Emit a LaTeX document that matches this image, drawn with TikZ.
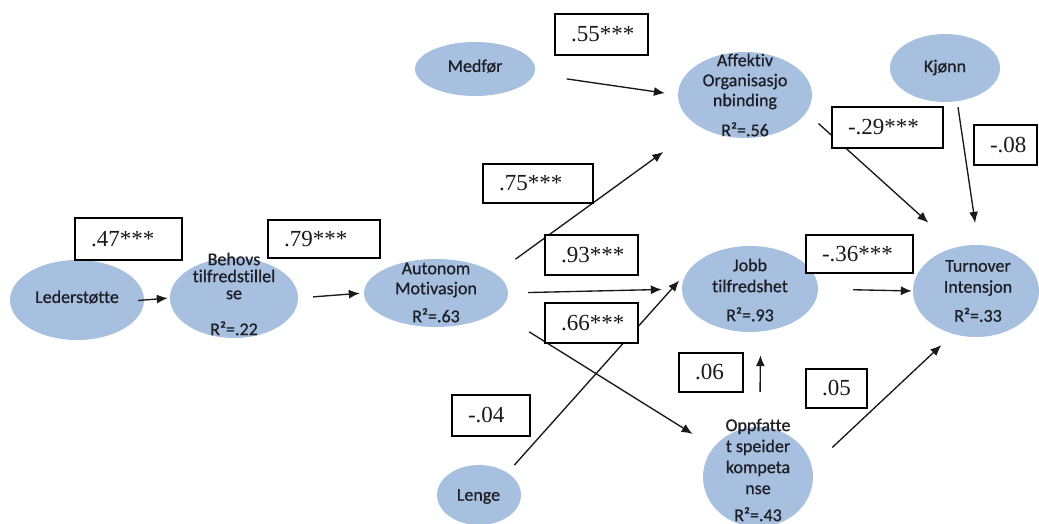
\documentclass[tikz,border=0pt]{standalone}
\usepackage{fontspec}
\usetikzlibrary{arrows.meta,shapes.geometric}
\newfontfamily\calibfont[FakeBold=0.7,Ligatures=NoCommon]{Carlito}
\newfontfamily\seriffont{Liberation Serif}
\definecolor{nodeblue}{RGB}{168,192,223}
\definecolor{inkgray}{RGB}{25,25,25}
\definecolor{labelink}{RGB}{30,30,38}

\tikzset{
  var/.style={ellipse, fill=nodeblue, draw=none, inner sep=0pt},
  vtext/.style={text=labelink, align=center, inner sep=0pt},
  coef/.style={draw=black, line width=1.3pt, fill=white, text=inkgray,
    font=\seriffont\fontsize{23}{25}\selectfont,
    inner xsep=16pt, inner ysep=0pt, align=left},
  link/.style={draw=inkgray, line width=1.35pt, -{Latex[length=11pt,width=9pt]}}
}
\newcommand{\txtsize}[1]{\calibfont\fontsize{18}{#1}\selectfont}

\begin{document}
\begin{tikzpicture}[x=1pt,y=-1pt]
\useasboundingbox (0,0) rectangle (1039,524);

% latent variables
\node[var, minimum width=134pt, minimum height=80pt] (L)  at (77,300)  {};
\node[var, minimum width=128pt, minimum height=80pt] (B)  at (234,298) {};
\node[var, minimum width=144pt, minimum height=68pt] (A)  at (436,293) {};
\node[var, minimum width=120pt, minimum height=54pt] (M)  at (475,69)  {};
\node[var, minimum width=134pt, minimum height=86pt] (AF) at (745,95)  {};
\node[var, minimum width=110pt, minimum height=68pt] (K)  at (945,68)  {};
\node[var, minimum width=136pt, minimum height=86pt] (J)  at (750,289) {};
\node[var, minimum width=126pt, minimum height=92pt] (T)  at (976,291) {};
\node[var, minimum width=84pt,  minimum height=60pt] (LG) at (479,495) {};
\node[var, minimum width=110pt, minimum height=100pt] (O) at (758,477) {};

% variable labels
\node[vtext, font=\txtsize{20}] (Lt)  at (77,297)    {Lederstøtte};
\node[vtext, font=\txtsize{17}] (Bt)  at (234,294)   {Behovs\\tilfredstillel\\se\\[19pt]R²=.22};
\node[vtext, font=\txtsize{20}] (At)  at (436,292.5) {Autonom\\Motivasjon\\[8pt]R²=.63};
\node[vtext, font=\txtsize{20}] (Mt)  at (475,66)    {Medfør};
\node[vtext, font=\txtsize{20}] (AFt) at (745,95)    {Affektiv\\Organisasjo\\nbinding\\[10pt]R²=.56};
\node[vtext, font=\txtsize{20}] (Kt)  at (945,67.5)  {Kjønn};
\node[vtext, font=\txtsize{21}] (Jt)  at (750,290)   {Jobb\\tilfredshet\\[8pt]R²=.93};
\node[vtext, font=\txtsize{21}] (Tt)  at (978,291)   {Turnover\\Intensjon\\[8pt]R²=.33};
\node[vtext, font=\txtsize{20}] (LGt) at (478.5,496.5) {Lenge};
\node[vtext, font=\txtsize{21}] (Ot)  at (758,470)   {Oppfatte\\t speider\\kompeta\\nse\\[6pt]R²=.43};

% paths
\draw[link, shorten <=-6pt,   shorten >=2pt]    (L.east)   -- (B.west);
\draw[link, shorten <=15pt,   shorten >=4pt]    (B.east)   -- (A.west);
\draw[link, shorten <=33pt,   shorten >=13pt]   (M.-5)     -- (AF.180);
\draw[link, shorten <=24.6pt, shorten >=43.7pt] (A.18.4)   -- (AF.214.7);
\draw[link, shorten <=20pt,   shorten >=20pt]   (A.east)   -- (J.west);
\draw[link, shorten <=38.3pt, shorten >=24.8pt] (A.-17.2)  -- (O.146.4);
\draw[link, shorten <=10.3pt, shorten >=18.7pt] (LG.38.1)  -- (J.159.9);
\draw[link, shorten <=35pt,   shorten >=23.5pt] (O.88)     -- (J.-76.8);
\draw[link, shorten <=27.8pt, shorten >=16.1pt] (O.11.7)   -- (T.242.7);
\draw[link, shorten <=16.3pt, shorten >=36.7pt] (AF.-16.6) -- (T.115.5);
\draw[link, shorten <=5.9pt,  shorten >=22.2pt] (K.-70)    -- (T.87.3);
\draw[link, shorten <=35pt,   shorten >=1pt]    (J.east)   -- (T.west);

% path coefficients
\node[coef, text width=61pt, minimum height=41pt] (b55) at (601.5,34.5)  {.55***};
\node[coef, text width=78pt, minimum height=39pt] (b75) at (538,183.5)   {.75***};
\node[coef, text width=75pt, minimum height=42pt] (b47) at (128.5,239)   {.47***};
\node[coef, text width=80pt, minimum height=38pt] (b79) at (324,239)     {.79***};
\node[coef, text width=61pt, minimum height=40pt] (b93) at (591.5,255)   {.93***};
\node[coef, text width=61pt, minimum height=40pt] (b66) at (591.5,323)   {.66***};
\node[coef, text width=75pt, minimum height=38pt] (b36) at (859.5,254)   {\mbox{-.36***}};
\node[coef, text width=79pt, minimum height=41pt] (b29) at (887.5,127.5) {\mbox{-.29***}};
\node[coef, text width=31pt, minimum height=40pt] (b08) at (1005.5,145)  {\mbox{-.08}};
\node[coef, text width=32pt, minimum height=39pt] (b06) at (711,372.5)   {.06};
\node[coef, text width=29pt, minimum height=39pt] (b05) at (836.5,388.5) {.05};
\node[coef, text width=46pt, minimum height=41pt] (b04) at (491,415.5)   {\mbox{-.04}};
\end{tikzpicture}
\end{document}
